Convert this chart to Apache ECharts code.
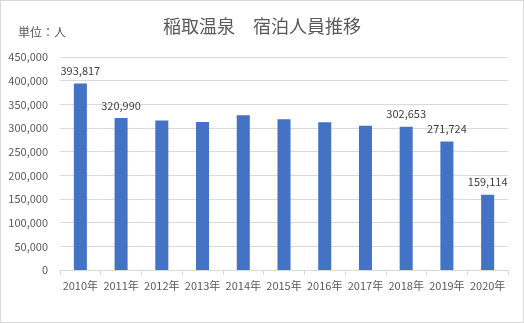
<!DOCTYPE html>
<html><head><meta charset="utf-8">
<script src="https://cdn.jsdelivr.net/npm/echarts@6/dist/echarts.min.js"></script>
<style>html,body{margin:0;padding:0;background:#fff}#c{width:522px;height:321px;border:1px solid #d9d9d9}</style>
</head><body><div id="c"></div>
<script>
const categories = ['2010年','2011年','2012年','2013年','2014年','2015年','2016年','2017年','2018年','2019年','2020年'];
const guests = [393817, 320990, 316000, 312500, 327000, 318500, 312000, 304500, 302653, 271724, 159114];
const labelled = [true, true, false, false, false, false, false, false, true, true, true];
const yTicks = {min: 0, max: 450000, interval: 50000};
const FONT = '"Noto Sans CJK JP", "Noto Sans", sans-serif';
const chart = echarts.init(document.getElementById('c'));
chart.setOption({
  animation: false,
  textStyle: {fontFamily: FONT},
  title: {text: '稲取温泉　宿泊人員推移', left: 'center', top: 11,
    textStyle: {fontFamily: FONT, fontSize: 18, fontWeight: 'normal', color: '#595959'}},
  graphic: [{type: 'text', left: 17, top: 25, style: {text: '単位：人', font: '12px ' + FONT, fill: '#595959'}}],
  grid: {left: 59, right: 15, top: 56, bottom: 52},
  xAxis: {type: 'category', data: categories,
    axisLine: {lineStyle: {color: '#d9d9d9'}},
    axisTick: {show: true, length: 5, lineStyle: {color: '#d9d9d9'}},
    axisLabel: {color: '#595959', fontSize: 11, margin: 10, fontFamily: FONT, interval: 0}},
  yAxis: {type: 'value', min: yTicks.min, max: yTicks.max, interval: yTicks.interval,
    axisLine: {show: false}, axisTick: {show: false},
    splitLine: {lineStyle: {color: '#d9d9d9'}},
    axisLabel: {color: '#595959', fontSize: 11, margin: 12, fontFamily: FONT,
      formatter: v => v.toLocaleString('en-US')}},
  series: [{type: 'bar', barWidth: '32%',
    itemStyle: {color: '#4472C4'},
    data: guests.map((v, i) => ({value: v, label: {show: labelled[i]}})),
    label: {position: 'top', distance: 7, color: '#404040', fontSize: 11, fontFamily: FONT,
      formatter: p => p.value.toLocaleString('en-US')}}]
});
</script></body></html>
